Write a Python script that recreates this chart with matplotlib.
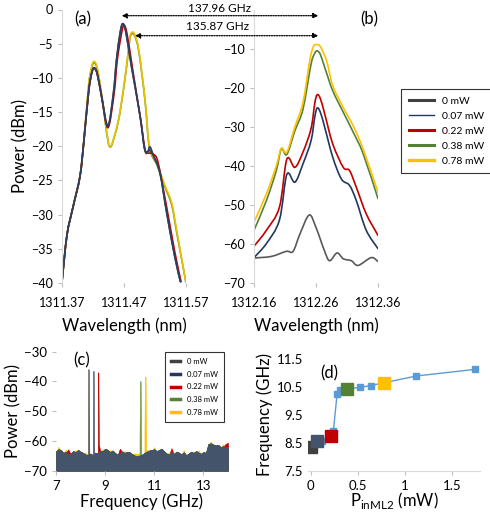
import matplotlib
matplotlib.use('Agg')
import matplotlib.pyplot as plt
import numpy as np
from matplotlib.path import Path
from matplotlib.patches import PathPatch, FancyArrowPatch
from matplotlib.lines import Line2D

plt.rcParams['font.family'] = ['Lato', 'DejaVu Sans']

W, H = 490, 512

powers = ['0 mW', '0.07 mW', '0.22 mW', '0.38 mW', '0.78 mW']
colors = ['#404040', '#1f3864', '#c00000', '#548235', '#ffc000']

# (a) optical spectrum around ML1 mode
a_wl_grey = [1311.370, 1311.378, 1311.388, 1311.399, 1311.405, 1311.413, 1311.418, 1311.422, 1311.427, 1311.434, 1311.444,
             1311.453, 1311.458, 1311.464, 1311.468, 1311.473, 1311.482, 1311.496, 1311.503, 1311.508, 1311.512,
             1311.518, 1311.528, 1311.539, 1311.552, 1311.561]
a_pw_grey = [-39.8, -33.0, -28.8, -24.4, -19.5, -12.0, -9.3, -8.6, -9.5, -12.8, -17.0,
             -12.2, -7.3, -3.3, -2.1, -3.3, -8.3, -15.6, -20.3, -20.8, -20.6,
             -21.5, -23.9, -29.8, -36.2, -39.8]
a_wl_navy = a_wl_grey
a_pw_navy = [-39.8, -33.0, -28.8, -24.4, -19.5, -12.0, -9.2, -8.5, -9.4, -12.8, -17.1,
             -12.2, -7.3, -3.3, -2.05, -3.3, -8.3, -15.6, -20.3, -20.8, -20.1,
             -21.5, -23.9, -29.8, -36.2, -39.8]
a_wl_red = [1311.370, 1311.378, 1311.388, 1311.399, 1311.405, 1311.413, 1311.418, 1311.422, 1311.427, 1311.434, 1311.444,
            1311.454, 1311.459, 1311.466, 1311.470, 1311.475, 1311.484, 1311.497, 1311.504, 1311.508, 1311.512,
            1311.518, 1311.525, 1311.539, 1311.552, 1311.562]
a_pw_red = [-39.8, -33.0, -28.8, -24.4, -19.5, -12.0, -9.3, -8.6, -9.5, -12.8, -17.3,
            -12.3, -7.5, -3.5, -2.3, -3.6, -8.8, -16.2, -20.6, -21.0, -21.0,
            -21.2, -22.4, -29.0, -35.5, -39.8]
a_wl_yellow = [1311.370, 1311.378, 1311.388, 1311.399, 1311.405, 1311.413, 1311.418, 1311.422, 1311.427, 1311.435, 1311.446,
               1311.456, 1311.464, 1311.474, 1311.479, 1311.482, 1311.487, 1311.494, 1311.504, 1311.511, 1311.523,
               1311.535, 1311.547, 1311.555, 1311.570]
a_pw_yellow = [-39.8, -33.0, -28.8, -24.4, -19.5, -11.0, -8.3, -7.6, -8.6, -13.0, -19.8,
               -18.0, -14.7, -8.3, -4.4, -3.4, -3.6, -6.0, -13.2, -20.0, -22.5,
               -25.5, -28.3, -32.3, -40.0]
a_wl_green = a_wl_yellow
a_pw_green = [-39.8, -33.0, -28.8, -24.4, -19.5, -11.2, -8.5, -7.8, -8.8, -13.2, -19.9,
              -18.1, -14.8, -8.5, -4.6, -3.6, -3.8, -6.2, -13.4, -20.2, -22.7,
              -25.7, -28.6, -32.6, -40.0]

# (b) optical spectrum around ML2 mode
b_wl_grey = [1312.160, 1312.188, 1312.212, 1312.223, 1312.234, 1312.249, 1312.260, 1312.274,
             1312.282, 1312.294, 1312.304, 1312.317, 1312.328, 1312.349, 1312.360]
b_pw_grey = [-63.6, -63.2, -61.9, -61.9, -57.5, -52.6, -55.8, -61.9,
             -64.3, -62.3, -63.8, -64.3, -65.5, -63.5, -64.5]
b_wl_navy = [1312.160, 1312.180, 1312.201, 1312.213, 1312.226, 1312.239, 1312.252, 1312.258, 1312.262,
             1312.267, 1312.274, 1312.287, 1312.301, 1312.314, 1312.325, 1312.341, 1312.360]
b_pw_navy = [-63.5, -59.9, -53.9, -42.2, -44.2, -39.5, -33.6, -27.5, -25.2,
             -26.3, -30.1, -37.8, -43.4, -45.0, -48.9, -56.5, -61.2]
b_wl_red = [1312.160, 1312.180, 1312.201, 1312.213, 1312.226, 1312.239, 1312.252, 1312.258, 1312.262,
            1312.267, 1312.274, 1312.287, 1312.304, 1312.314, 1312.325, 1312.341, 1312.360]
b_pw_red = [-60.6, -56.5, -50.6, -38.3, -40.4, -36.5, -30.5, -24.0, -21.8,
            -22.8, -26.7, -34.4, -40.4, -41.2, -45.5, -52.3, -57.8]
b_wl_green = [1312.160, 1312.180, 1312.196, 1312.204, 1312.213, 1312.226, 1312.239, 1312.252, 1312.258, 1312.262,
              1312.267, 1312.274, 1312.287, 1312.304, 1312.320, 1312.336, 1312.360]
b_pw_green = [-56.5, -48.9, -41.2, -35.7, -37.1, -31.0, -25.5, -14.0, -11.2, -10.6,
              -11.5, -14.8, -20.8, -26.3, -31.4, -36.9, -48.4]
b_wl_yellow = [1312.160, 1312.180, 1312.196, 1312.204, 1312.213, 1312.226, 1312.239, 1312.250, 1312.256, 1312.262,
               1312.267, 1312.277, 1312.287, 1312.304, 1312.320, 1312.336, 1312.360]
b_pw_yellow = [-54.4, -47.2, -40.0, -35.5, -36.5, -30.0, -23.8, -13.0, -9.4, -9.0,
               -9.5, -13.1, -19.5, -25.1, -29.8, -35.7, -46.8]

# (c) RF spectrum: noise floor traces (0.1 GHz steps, 7..14 GHz) and beat note spikes
c_freq = np.round(np.arange(7.0, 14.01, 0.1), 2)
c_floor = [-63.5, -62.8, -63.0, -64.0, -63.6, -64.5, -64.2, -63.4, -63.8, -63.0,
           -63.6, -64.0, -64.6, -65.0, -64.2, -64.8, -63.9, -64.3, -63.2, -63.5,
           -62.6, -63.0, -63.8, -63.2, -64.0, -64.6, -64.2, -63.5, -64.1, -63.6,
           -63.8, -64.4, -64.9, -65.2, -65.0, -64.6, -64.0, -63.6, -63.2, -63.0,
           -62.8, -63.4, -63.0, -62.6, -63.5, -64.2, -64.6, -63.8, -64.3, -63.6,
           -63.9, -64.5, -63.8, -64.8, -64.2, -63.6, -64.0, -63.4, -63.9, -64.3,
           -63.7, -64.0, -61.0, -60.8, -61.2, -61.5, -61.3, -62.0, -61.8, -62.2, -62.0]
c_floor_yellow = [-63.8, -62.0, -63.4, -64.2, -62.9, -64.8, -64.4, -63.8, -63.1, -63.3,
                  -63.9, -64.2, -63.9, -65.3, -64.5, -65.0, -64.2, -64.6, -63.5, -62.8,
                  -62.9, -63.3, -63.1, -63.5, -64.3, -64.8, -64.5, -63.8, -63.4, -63.9,
                  -64.1, -64.6, -64.2, -64.4, -64.3, -64.8, -64.3, -63.0, -63.4, -63.3,
                  -62.1, -63.6, -63.3, -62.9, -63.7, -64.4, -63.9, -64.0, -64.5, -63.9,
                  -64.1, -64.7, -63.1, -65.0, -64.4, -63.8, -64.3, -63.6, -63.2, -64.5,
                  -63.9, -64.2, -61.3, -60.2, -61.5, -61.7, -61.6, -62.2, -61.1, -62.4, -61.4]
c_floor_red = [-63.9, -63.1, -63.3, -64.3, -63.9, -62.8, -64.5, -63.7, -64.1, -63.3,
               -63.9, -64.3, -64.9, -65.3, -64.5, -65.1, -64.2, -64.6, -63.5, -63.8,
               -62.9, -63.3, -64.1, -63.5, -64.3, -64.9, -62.6, -63.8, -64.4, -63.9,
               -64.1, -64.7, -65.2, -65.5, -65.3, -64.9, -64.3, -63.9, -63.5, -63.3,
               -63.1, -63.7, -63.3, -62.9, -63.8, -64.5, -64.9, -62.4, -64.6, -63.9,
               -64.2, -64.8, -64.1, -65.1, -64.5, -63.9, -64.3, -63.7, -64.2, -64.6,
               -64.0, -64.3, -61.3, -61.1, -61.5, -61.8, -61.6, -62.3, -62.1, -61.0, -60.6]
c_spike_f = [[8.29, 8.31, 8.335, 8.355],
             [8.49, 8.51, 8.535, 8.555],
             [8.68, 8.70, 8.725, 8.745],
             [10.37, 10.40, 10.42, 10.445, 10.47],
             [10.57, 10.60, 10.62, 10.645, 10.67]]
c_spike_p = [[-64.5, -35.9, -35.9, -64.5],
             [-64.8, -36.5, -36.5, -64.8],
             [-64.2, -37.0, -37.0, -61.0],
             [-64.8, -60.0, -39.9, -39.9, -64.6],
             [-64.4, -57.0, -38.4, -38.4, -64.0]]

# (d) beat frequency vs injected power into ML2
d_power = [0.0, 0.01, 0.07, 0.12, 0.22, 0.24, 0.28, 0.31, 0.38, 0.52, 0.64, 0.78, 1.12, 1.75]
d_freq = [8.34, 8.38, 8.55, 8.56, 8.74, 8.93, 10.26, 10.38, 10.44, 10.48, 10.55, 10.65, 10.89, 11.13]
d_marked_power = [0.0, 0.07, 0.22, 0.38, 0.78]
d_marked_freq = [8.34, 8.55, 8.74, 10.44, 10.65]


def smooth_curve(ax, xs, ys, color, lw):
    # Catmull-Rom through the points, drawn as cubic Bezier (Excel "smoothed line")
    pts = np.column_stack([xs, ys]).astype(float)
    ext = np.vstack([pts[0], pts, pts[-1]])
    verts = [pts[0]]
    codes = [Path.MOVETO]
    for i in range(1, len(ext) - 2):
        p0, p1, p2, p3 = ext[i - 1], ext[i], ext[i + 1], ext[i + 2]
        verts += [p1 + (p2 - p0) / 6, p2 - (p3 - p1) / 6, p2]
        codes += [Path.CURVE4] * 3
    ax.add_patch(PathPatch(Path(verts, codes), fill=False, edgecolor=color, lw=lw,
                           capstyle='round', joinstyle='round'))


def px_axes(fig, x0, y0, x1, y1):
    return fig.add_axes([x0 / W, 1 - y1 / H, (x1 - x0) / W, (y1 - y0) / H])


def excel_style(ax, left=True, bottom=False):
    for s in ['top', 'right']:
        ax.spines[s].set_visible(False)
    ax.spines['left'].set_visible(left)
    ax.spines['bottom'].set_visible(bottom)
    ax.spines['left'].set_color('#d9d9d9')
    ax.spines['bottom'].set_color('#d9d9d9')
    ax.tick_params(colors='#bfbfbf', labelcolor='black', length=3, width=0.8, labelsize=9)
    ax.patch.set_alpha(0)


fig = plt.figure(figsize=(W / 100, H / 100), dpi=100)

# ---- (a)
ax_a = px_axes(fig, 62, 9.5, 186, 283)
excel_style(ax_a)
a_series = [(a_wl_green, a_pw_green, '#6b8e23'), (a_wl_yellow, a_pw_yellow, '#e8c400'),
            (a_wl_red, a_pw_red, colors[2]), (a_wl_grey, a_pw_grey, colors[0]),
            (a_wl_navy, a_pw_navy, '#2e3f66')]
for xs, ys, c in a_series:
    smooth_curve(ax_a, xs, ys, c, 1.2)
ax_a.set_xlim(1311.37, 1311.57)
ax_a.set_ylim(-40, 0)
ax_a.set_xticks([1311.37, 1311.47, 1311.57])
ax_a.set_xticklabels(['1311.37', '1311.47', '1311.57'])
ax_a.set_yticks(range(-40, 1, 5))
ax_a.tick_params(axis='x', pad=7)
ax_a.set_ylabel('Power (dBm)', fontsize=12, labelpad=2)
ax_a.set_xlabel('Wavelength (nm)', fontsize=12, labelpad=6)
ax_a.text(0.1, 0.965, '(a)', transform=ax_a.transAxes, fontsize=12, va='center')

# ---- (b)
ax_b = px_axes(fig, 254, 9.5, 378, 283)
excel_style(ax_b)
b_series = [(b_wl_grey, b_pw_grey, '#595959'), (b_wl_navy, b_pw_navy, colors[1]),
            (b_wl_red, b_pw_red, colors[2]), (b_wl_green, b_pw_green, colors[3]),
            (b_wl_yellow, b_pw_yellow, colors[4])]
for xs, ys, c in b_series:
    smooth_curve(ax_b, xs, ys, c, 1.2)
ax_b.set_xlim(1312.16, 1312.36)
ax_b.set_ylim(-70, 0)
ax_b.set_xticks([1312.16, 1312.26, 1312.36])
ax_b.set_xticklabels(['1312.16', '1312.26', '1312.36'])
ax_b.set_yticks(range(-70, -9, 10))
ax_b.tick_params(axis='x', pad=7)
ax_b.set_xlabel('Wavelength (nm)', fontsize=12, labelpad=6)
ax_b.text(0.93, 0.965, '(b)', transform=ax_b.transAxes, fontsize=12, va='center', ha='center')

handles = [Line2D([], [], color=c, lw=w) for c, w in zip(['#404040', colors[1], colors[2], colors[3], colors[4]],
                                                          [2.2, 1.0, 2.2, 2.2, 2.4])]
leg = fig.legend(handles, powers, loc='upper left', bbox_to_anchor=(396 / W, 1 - 84 / H),
                 fontsize=7.5, frameon=True, fancybox=False, edgecolor='black',
                 handlelength=2.4, labelspacing=0.55, borderpad=0.7, handletextpad=0.8)
leg.get_frame().set_linewidth(0.8)

# arrows between the two modes
fig.text(219 / W, 1 - 8.5 / H, '137.96 GHz', ha='center', va='center', fontsize=8.5)
fig.text(217.5 / W, 1 - 27 / H, '135.87 GHz', ha='center', va='center', fontsize=8.5)
for x0, y in [(121.7, 15.7), (135.0, 35.7)]:
    fig.add_artist(FancyArrowPatch(
        (x0 / W, 1 - y / H), (318.3 / W, 1 - y / H), transform=fig.transFigure,
        arrowstyle='<|-|>,head_length=3,head_width=1.5', linestyle=(0, (1, 1)),
        lw=0.9, color='black', shrinkA=0, shrinkB=0))

# ---- (c)
ax_c = px_axes(fig, 56, 351.7, 228, 470.7)
excel_style(ax_c, left=False, bottom=False)
c_floors = [c_floor, c_floor, c_floor_red, c_floor, c_floor_yellow]
c_fill = ['#505050', '#44546a', '#c00000', '#6a9a44', '#ffc000']
for idx in [4, 2, 3, 0, 1]:
    f = np.concatenate([c_freq, c_spike_f[idx]])
    p = np.concatenate([c_floors[idx], c_spike_p[idx]])
    order = np.argsort(f, kind='stable')
    ax_c.fill_between(f[order], -70, p[order], color=c_fill[idx], lw=0.4)
ax_c.set_xlim(7, 14)
ax_c.set_ylim(-70, -30)
ax_c.set_xticks([7, 9, 11, 13])
ax_c.set_yticks(range(-70, -29, 10))
ax_c.tick_params(labelsize=9.5)
ax_c.set_ylabel('Power (dBm)', fontsize=12, labelpad=2)
ax_c.set_xlabel('Frequency (GHz)', fontsize=12, labelpad=1)
ax_c.text(0.1, 0.93, '(c)', transform=ax_c.transAxes, fontsize=12, va='center')
c_handles = [Line2D([], [], color=c, lw=2.5) for c in ['#404040', '#1f3864', '#c00000', '#548235', '#ffc000']]
c_leg = fig.legend(c_handles, powers, loc='upper right', bbox_to_anchor=(228 / W, 1 - 348 / H),
                   fontsize=5.5, frameon=True, fancybox=False, edgecolor='black',
                   handlelength=1.2, labelspacing=0.75, borderpad=0.8, handletextpad=0.9)
c_leg.get_frame().set_linewidth(0.8)

# ---- (d)
ax_d = px_axes(fig, 308, 359, 480, 470.7)
excel_style(ax_d, left=False, bottom=True)
ax_d.plot(d_power, d_freq, color='#5b9bd5', lw=1.0, marker='s', ms=4, zorder=2)
for xp, yf, c in zip(d_marked_power, d_marked_freq, ['#404040', '#44546a', '#c00000', '#548235', '#ffc000']):
    ax_d.plot([xp], [yf], marker='s', ms=9, color=c, ls='none', zorder=3)
ax_d.set_xlim(-0.03, 1.8)
ax_d.set_ylim(7.5, 11.5)
ax_d.set_xticks([0, 0.5, 1, 1.5])
ax_d.set_xticklabels(['0', '0.5', '1', '1.5'])
ax_d.set_yticks([7.5, 8.5, 9.5, 10.5, 11.5])
ax_d.tick_params(labelsize=9.5)
ax_d.tick_params(axis='y', length=0)
ax_d.set_ylabel('Frequency (GHz)', fontsize=12, labelpad=3)
ax_d.set_xlabel(r'P$_{\mathregular{inML2}}$ (mW)', fontsize=12, labelpad=-1)
ax_d.text(0.07, 0.87, '(d)', transform=ax_d.transAxes, fontsize=12, va='center')

fig.savefig('out.png', dpi=100)
